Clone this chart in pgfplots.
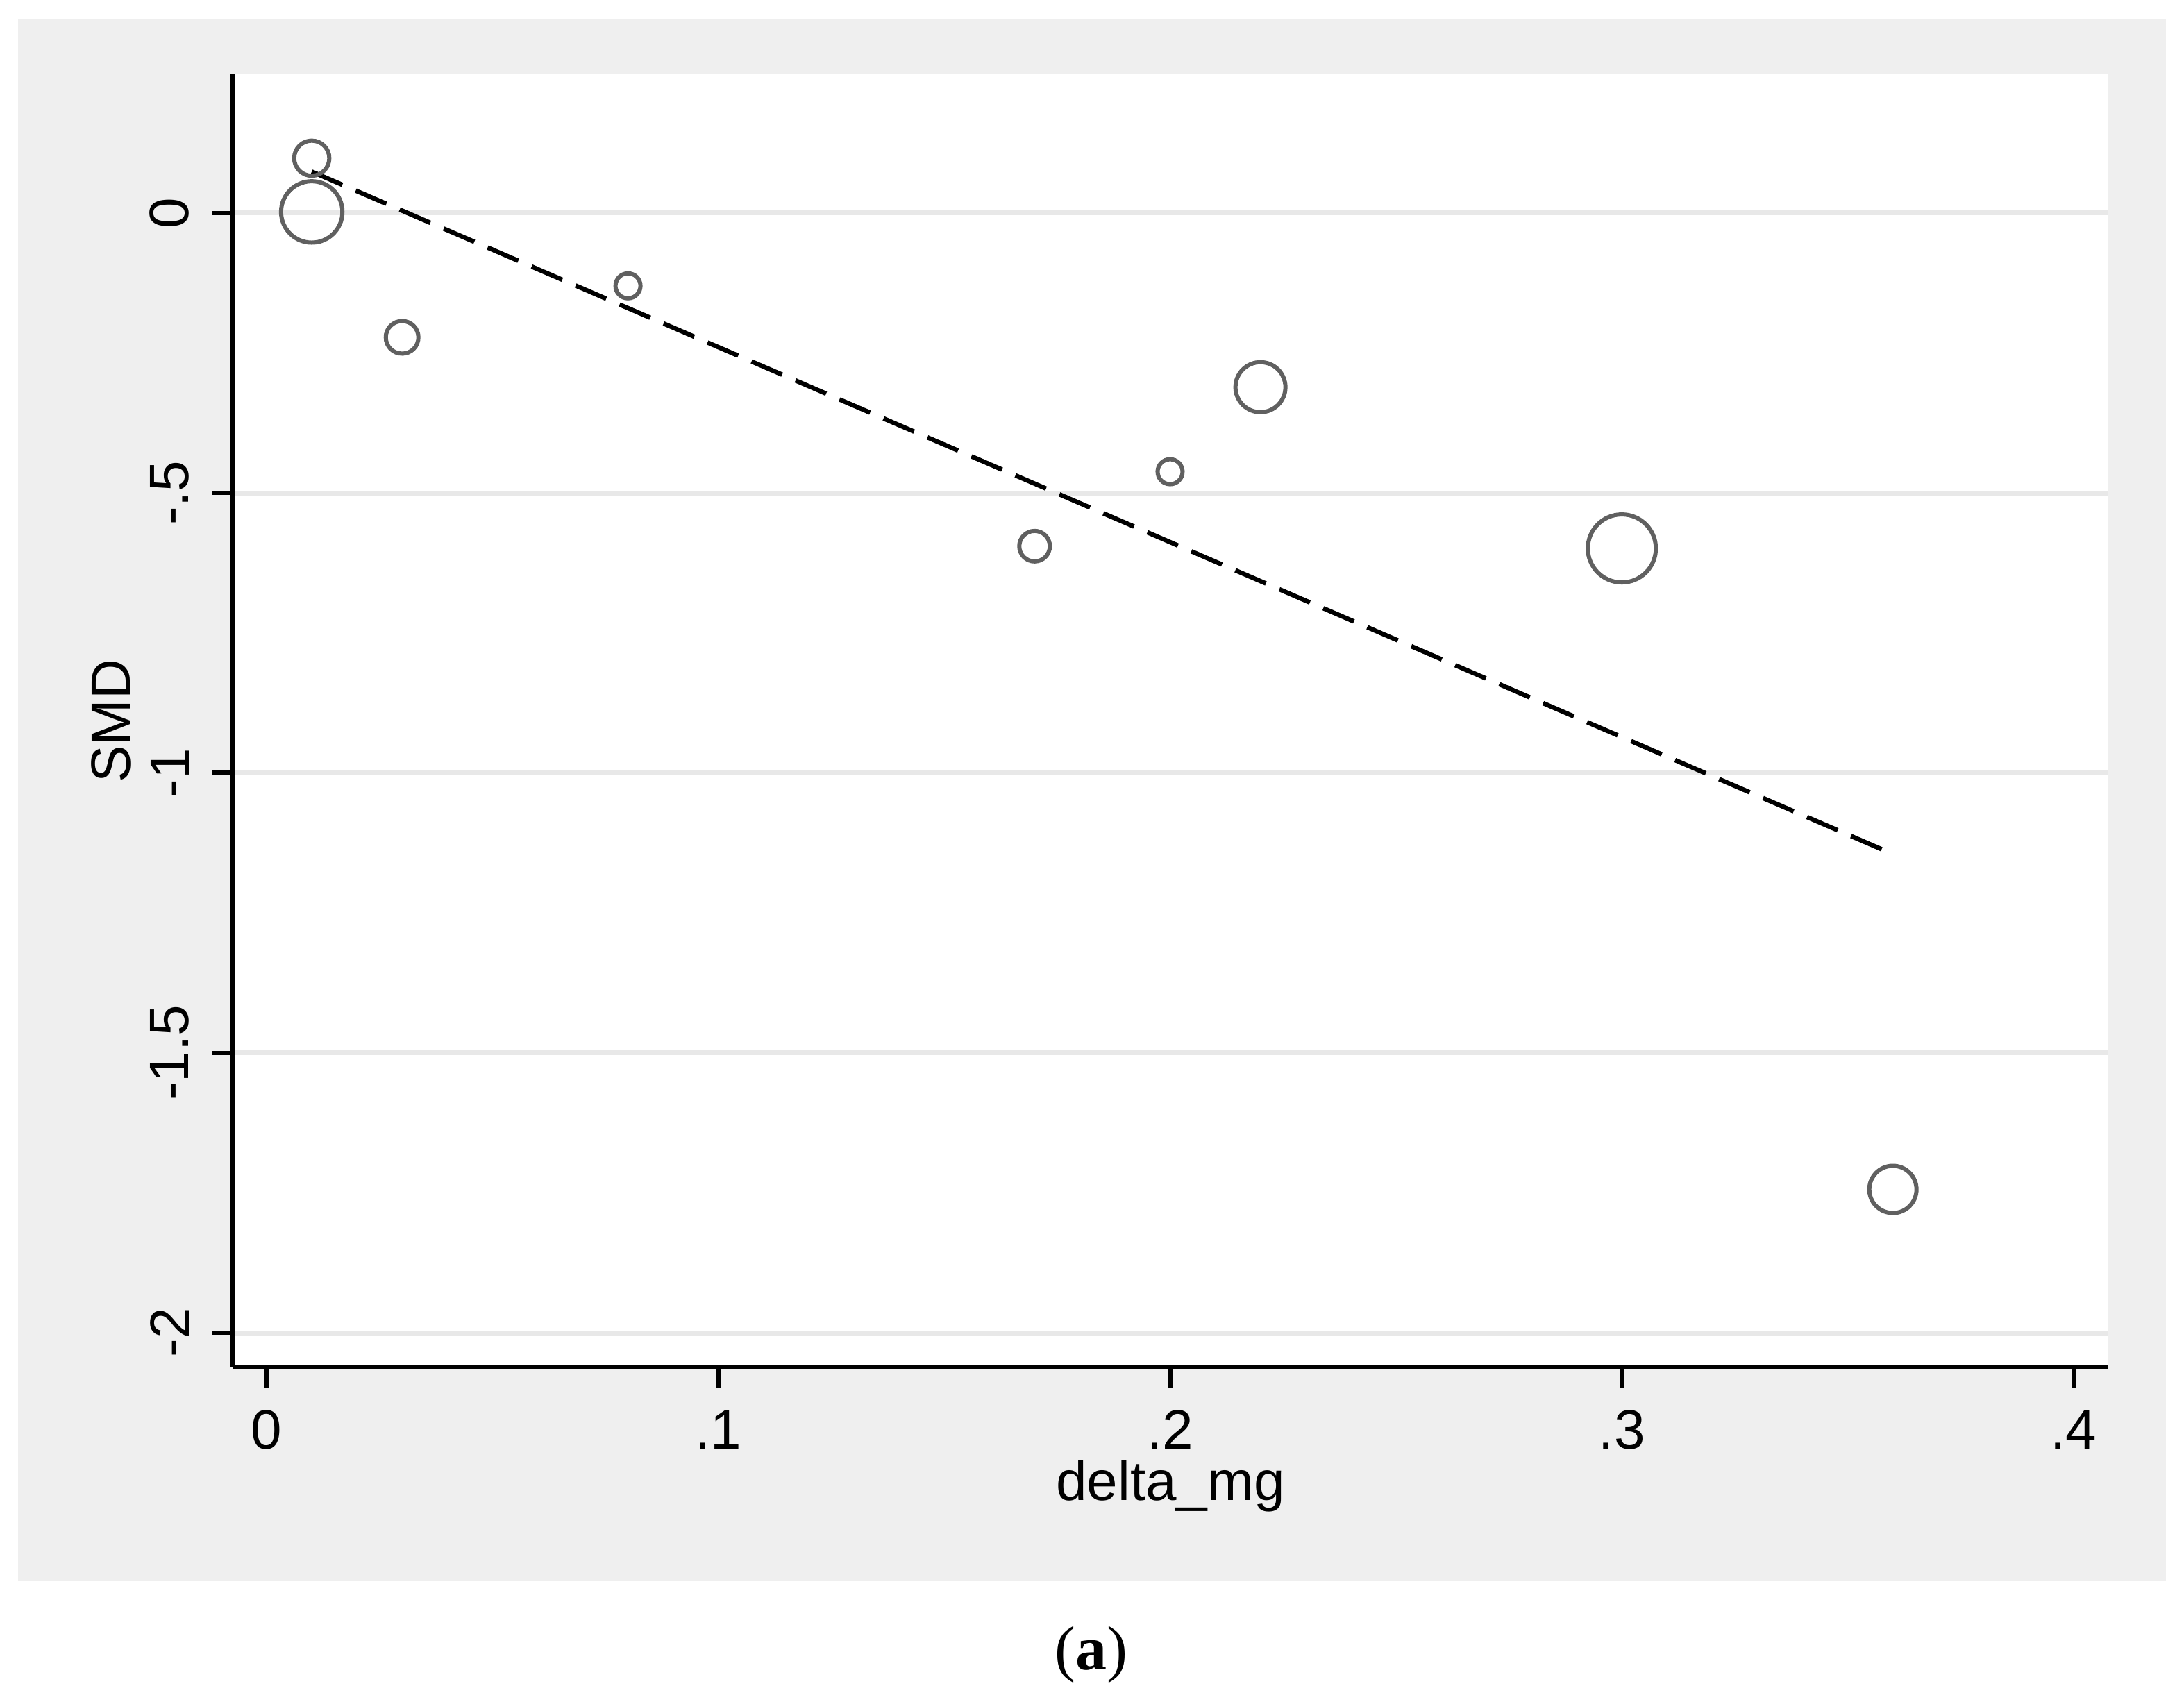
\documentclass[border=0pt]{standalone}
\usepackage{pgfplots}
\pgfplotsset{compat=1.18}
\usepackage{fontspec}
\setmainfont{Liberation Sans}
\newfontfamily\capserif{Liberation Serif}
\definecolor{panelgray}{RGB}{239,239,239}
\definecolor{gridgray}{RGB}{232,232,232}
\definecolor{markgray}{RGB}{96,96,96}
\pgfplotstableread{
x      y       r
0.01   0.098   2.53
0.01   0.002   4.42
0.03  -0.222   2.35
0.08  -0.130   1.80
0.17  -0.595   2.20
0.20  -0.462   1.80
0.22  -0.311   3.60
0.30  -0.599   4.90
0.36  -1.744   3.40
}\smddata
\begin{document}
\begin{tikzpicture}
\path[use as bounding box, fill=white] (0pt,0pt) rectangle (314.6pt,245.2pt);
\fill[panelgray] (2.6pt,17.5pt) rectangle (312.0pt,242.5pt);
\begin{axis}[
  at={(33.5pt,48.3pt)}, anchor=south west,
  scale only axis, width=270.2pt, height=186.2pt,
  xmin=-0.00753, xmax=0.4077, ymin=-2.0607, ymax=0.248,
  axis background/.style={fill=white},
  axis x line*=bottom, axis y line*=left,
  axis line style={line width=0.65pt, black, -},
  tick align=outside,
  major tick length=3pt,
  tick style={line width=0.65pt, black},
  xtick={0,0.1,0.2,0.3,0.4},
  xticklabels={0,.1,.2,.3,.4},
  ytick={-2,-1.5,-1,-0.5,0},
  yticklabels={-2,-1.5,-1,-.5,0},
  minor tick num=0,
  tick label style={font=\fontsize{8}{9.6}\selectfont, inner sep=0pt},
  xticklabel shift=3.1pt,
  yticklabel shift=3.1pt,
  yticklabel style={rotate=90, anchor=south},
  ymajorgrids,
  major grid style={gridgray, line width=0.7pt},
  xlabel={delta\_mg},
  ylabel={SMD},
  label style={font=\fontsize{8}{9.6}\selectfont},
  xlabel style={at={(axis description cs:0.5,-0.0924)}, anchor=center},
  ylabel style={at={(axis description cs:-0.0648,0.4995)}, anchor=center, rotate=0},
  clip=false,
]
\addplot[
  scatter, only marks, mark=o,
  scatter/use mapped color={draw=markgray, fill=none},
  mark options={line width=0.6pt},
  visualization depends on={\thisrow{r} \as \rad},
  scatter/@pre marker code/.append style={/tikz/mark size=\rad pt},
] table[x=x, y=y] {\smddata};
\addplot[black, line width=0.65pt, dash pattern=on 4.8pt off 2.1pt, mark=none]
  coordinates {(0.01,0.074) (0.36,-1.145)};
\end{axis}
\node[font=\fontsize{9}{10.8}\selectfont\capserif, anchor=center] at (157.2pt,6.8pt) {(\textbf{a})};
\end{tikzpicture}
\end{document}
